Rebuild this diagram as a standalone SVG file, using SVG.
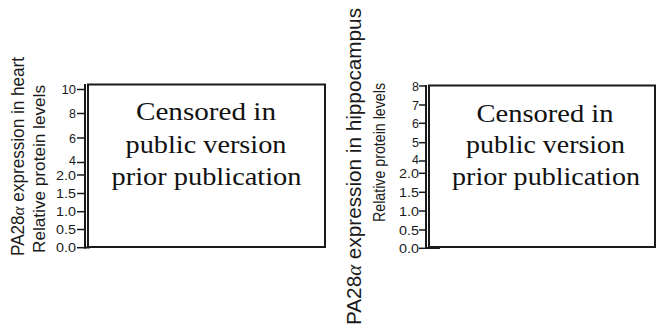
<svg xmlns="http://www.w3.org/2000/svg" width="656" height="326" viewBox="0 0 656 326">
<style>
.ax{stroke:#1a1a1a;stroke-width:2;fill:none}
.tk{stroke:#1a1a1a;stroke-width:1.5}
.box{fill:#fff;stroke:#1a1a1a;stroke-width:2}
.tl{font-family:"Liberation Sans",Arial,sans-serif;font-size:12.5px;fill:#1a1a1a;text-anchor:end}
.tt{font-family:"Liberation Sans",Arial,sans-serif;fill:#1a1a1a;text-anchor:middle}
.cen{font-family:"Liberation Serif","Times New Roman",serif;font-size:26px;fill:#111;text-anchor:middle}
.al{font-family:"Liberation Serif",serif;font-style:italic}
</style>
<g id="panel-heart">
  <g id="heart-titles">
    <text class="tt" font-size="17.5" transform="translate(23.5,156.5) rotate(-90)" textLength="199" lengthAdjust="spacingAndGlyphs">PA28<tspan class="al">α</tspan> expression in heart</text>
    <text class="tt" font-size="16.5" transform="translate(45,169) rotate(-90)" textLength="168" lengthAdjust="spacingAndGlyphs">Relative protein levels</text>
  </g>
  <g id="heart-axis">
    <line class="ax" x1="85" y1="84" x2="85" y2="248.5"/>
    <line class="tk" x1="77" y1="89.5" x2="85" y2="89.5"/>
    <line class="tk" x1="77" y1="113.5" x2="85" y2="113.5"/>
    <line class="tk" x1="77" y1="138" x2="85" y2="138"/>
    <line class="tk" x1="77" y1="162.5" x2="85" y2="162.5"/>
    <line class="tk" x1="77" y1="175" x2="85" y2="175"/>
    <line class="tk" x1="77" y1="193.5" x2="85" y2="193.5"/>
    <line class="tk" x1="77" y1="211.7" x2="85" y2="211.7"/>
    <line class="tk" x1="77" y1="229.5" x2="85" y2="229.5"/>
    <line class="tk" x1="77" y1="247.7" x2="85" y2="247.7"/>
    <text class="tl" x="76" y="94" textLength="14.5" lengthAdjust="spacingAndGlyphs">10</text>
    <text class="tl" x="76" y="118">8</text>
    <text class="tl" x="76" y="142.5">6</text>
    <text class="tl" x="76" y="165">4</text>
    <text class="tl" x="76" y="179.5" textLength="20" lengthAdjust="spacingAndGlyphs">2.0</text>
    <text class="tl" x="76" y="198" textLength="20" lengthAdjust="spacingAndGlyphs">1.5</text>
    <text class="tl" x="76" y="216.2" textLength="20" lengthAdjust="spacingAndGlyphs">1.0</text>
    <text class="tl" x="76" y="234" textLength="20" lengthAdjust="spacingAndGlyphs">0.5</text>
    <text class="tl" x="76" y="252.2" textLength="20" lengthAdjust="spacingAndGlyphs">0.0</text>
  </g>
  <g id="heart-box">
    <rect class="box" x="88" y="84.5" width="237" height="162.5"/>
    <line class="ax" x1="84" y1="247.5" x2="90" y2="247.5"/>
    <text class="cen" x="206" y="120" textLength="140" lengthAdjust="spacingAndGlyphs">Censored in</text>
    <text class="cen" x="206" y="152.5" textLength="161" lengthAdjust="spacingAndGlyphs">public version</text>
    <text class="cen" x="206.5" y="185" textLength="190" lengthAdjust="spacingAndGlyphs">prior publication</text>
  </g>
</g>
<g id="panel-hippocampus">
  <g id="hippo-titles">
    <text class="tt" font-size="21" transform="translate(361,166.5) rotate(-90)" textLength="317" lengthAdjust="spacingAndGlyphs">PA28<tspan class="al">α</tspan> expression in hippocampus</text>
    <text class="tt" font-size="16.5" transform="translate(385,152.5) rotate(-90)" textLength="139" lengthAdjust="spacingAndGlyphs">Relative protein levels</text>
  </g>
  <g id="hippo-axis">
    <line class="ax" x1="426" y1="85" x2="426" y2="249"/>
    <line class="tk" x1="419" y1="86" x2="426" y2="86"/>
    <line class="tk" x1="419" y1="105" x2="426" y2="105"/>
    <line class="tk" x1="419" y1="123.3" x2="426" y2="123.3"/>
    <line class="tk" x1="419" y1="142.7" x2="426" y2="142.7"/>
    <line class="tk" x1="419" y1="161" x2="426" y2="161"/>
    <line class="tk" x1="419" y1="173.3" x2="426" y2="173.3"/>
    <line class="tk" x1="419" y1="192.3" x2="426" y2="192.3"/>
    <line class="tk" x1="419" y1="211" x2="426" y2="211"/>
    <line class="tk" x1="419" y1="230" x2="426" y2="230"/>
    <line class="tk" x1="419" y1="248.3" x2="426" y2="248.3"/>
    <text class="tl" x="419" y="90.5">8</text>
    <text class="tl" x="419" y="109.5">7</text>
    <text class="tl" x="419" y="127.8">6</text>
    <text class="tl" x="419" y="147.2">5</text>
    <text class="tl" x="419" y="163.5">4</text>
    <text class="tl" x="419" y="177.8" textLength="20" lengthAdjust="spacingAndGlyphs">2.0</text>
    <text class="tl" x="419" y="196.8" textLength="20" lengthAdjust="spacingAndGlyphs">1.5</text>
    <text class="tl" x="419" y="215.5" textLength="20" lengthAdjust="spacingAndGlyphs">1.0</text>
    <text class="tl" x="419" y="234.5" textLength="20" lengthAdjust="spacingAndGlyphs">0.5</text>
    <text class="tl" x="419" y="252.8" textLength="20" lengthAdjust="spacingAndGlyphs">0.0</text>
  </g>
  <g id="hippo-box">
    <rect class="box" x="429" y="85.5" width="226" height="161.5"/>
    <line class="ax" x1="425" y1="248" x2="440" y2="248"/>
    <text class="cen" x="545" y="121.5" textLength="137" lengthAdjust="spacingAndGlyphs">Censored in</text>
    <text class="cen" x="545.5" y="153" textLength="159" lengthAdjust="spacingAndGlyphs">public version</text>
    <text class="cen" x="546" y="185" textLength="188" lengthAdjust="spacingAndGlyphs">prior publication</text>
  </g>
</g>
<g id="connectors"/>
</svg>
